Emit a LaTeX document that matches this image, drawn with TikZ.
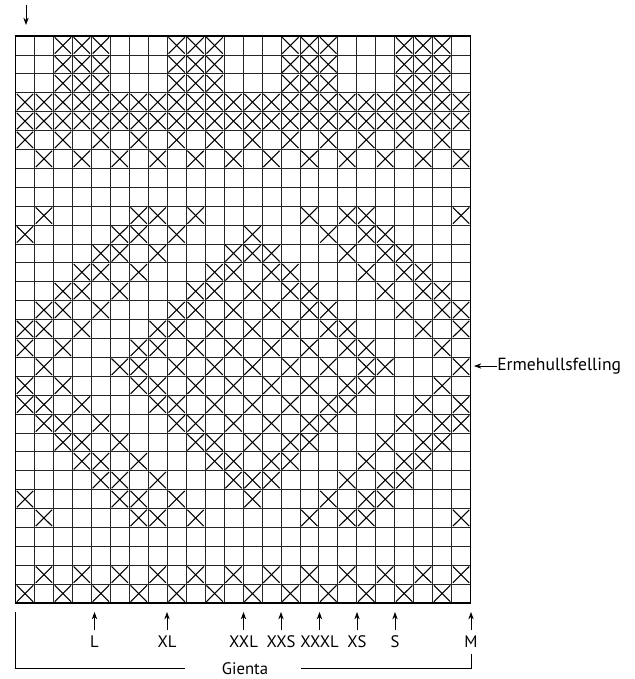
\documentclass[tikz,border=0pt]{standalone}
\usepackage{fontspec}
\setmainfont{PT Sans}
\usetikzlibrary{arrows.meta}
\begin{document}
\begin{tikzpicture}[x=0.75pt,y=-0.75pt,
  gridline/.style={line width=0.6pt, black!85},
  border/.style={line width=1.3pt},
  xmark/.style={line width=0.8pt},
  arr/.style={-{Stealth[length=5.5pt,width=4pt]}, line width=0.6pt},
  bracket/.style={line width=0.6pt},
  lbl/.style={font=\fontsize{12.5}{15}\selectfont, inner sep=0pt},
  elbl/.style={font=\fontsize{13.2}{15}\selectfont, inner sep=0pt}]
\useasboundingbox (0,0) rectangle (635,679);
\def\gx{15.5}\def\gy{36}\def\cw{18.96}\def\ch{18.9}\def\ins{1.3}
% grid
\foreach \k in {1,...,23}
  \draw[gridline] ({\gx+\k*\cw},\gy) -- ({\gx+\k*\cw},{\gy+30*\ch});
\foreach \k in {1,...,29}
  \draw[gridline] (\gx,{\gy+\k*\ch}) -- ({\gx+24*\cw},{\gy+\k*\ch});
% crosses
\foreach \r/\cs in {
  1/{3,4,5,9,10,11,15,16,17,21,22,23},
  2/{3,4,5,9,10,11,15,16,17,21,22,23},
  3/{3,4,5,9,10,11,15,16,17,21,22,23},
  4/{1,...,24},
  5/{1,...,24},
  6/{1,3,...,23},
  7/{2,4,...,24},
  10/{2,7,8,10,16,18,19,24},
  11/{1,6,7,9,13,17,19,20},
  12/{5,6,8,12,13,14,18,20,21},
  13/{4,5,7,11,12,14,15,19,21,22},
  14/{3,4,6,10,11,13,15,16,20,22,23},
  15/{2,3,5,9,10,12,14,16,17,21,23,24},
  16/{1,2,4,8,9,11,13,15,17,18,22,24},
  17/{1,3,7,8,10,12,14,16,18,19,23},
  18/{2,6,7,9,11,13,15,17,19,20,24},
  19/{1,3,7,8,10,12,14,16,18,19,23},
  20/{1,2,4,8,9,11,13,15,17,18,22,24},
  21/{2,3,5,9,10,12,14,16,17,21,23,24},
  22/{3,4,6,10,11,13,15,16,20,22,23},
  23/{4,5,7,11,12,14,15,19,21,22},
  24/{5,6,8,12,13,14,18,20,21},
  25/{1,6,7,9,13,17,19,20},
  26/{2,7,8,10,16,18,19,24},
  29/{2,4,...,24},
  30/{1,3,...,23}}{
  \foreach \c in \cs {
    \draw[xmark] ({\gx+(\c-1)*\cw+\ins},{\gy+(\r-1)*\ch+\ins}) -- ({\gx+\c*\cw-\ins},{\gy+\r*\ch-\ins});
    \draw[xmark] ({\gx+\c*\cw-\ins},{\gy+(\r-1)*\ch+\ins}) -- ({\gx+(\c-1)*\cw+\ins},{\gy+\r*\ch-\ins});
  }
}
% border
\draw[border] (\gx,\gy) rectangle ({\gx+24*\cw},{\gy+30*\ch});
% top arrow
\coordinate (topA) at (26,5);
\coordinate (topB) at (26,25);
\draw[arr] (topA) -- (topB);
% size labels with arrows
\foreach \n/\t/\xx in {L/L/94.5, XL/XL/167, XXL/XXL/243.5, XXS/XXS/281, XXXL/XXXL/319.5, XS/XS/357, S/S/395, M/M/471}{
  \node[lbl] (lab\n) at (\xx,642) {\t};
  \coordinate (tail\n) at (\xx,630);
  \coordinate (tip\n) at (\xx,612);
  \draw[arr] (tail\n) -- (tip\n);
}
% Gienta bracket
\node[lbl] (gienta) at (245,669) {Gienta};
\coordinate (bl0) at (15.5,612);
\coordinate (bl1) at (185,668);
\coordinate (br0) at (301,668);
\coordinate (br1) at (471,654);
\draw[bracket] (bl0) |- (bl1);
\draw[bracket] (br0) -| (br1);
% armhole
\node[elbl, anchor=west] (erme) at (497,366) {Ermehullsfelling};
\coordinate (ermeTip) at (474,366);
\draw[arr] (erme.west) -- (ermeTip);
\end{tikzpicture}
\end{document}
